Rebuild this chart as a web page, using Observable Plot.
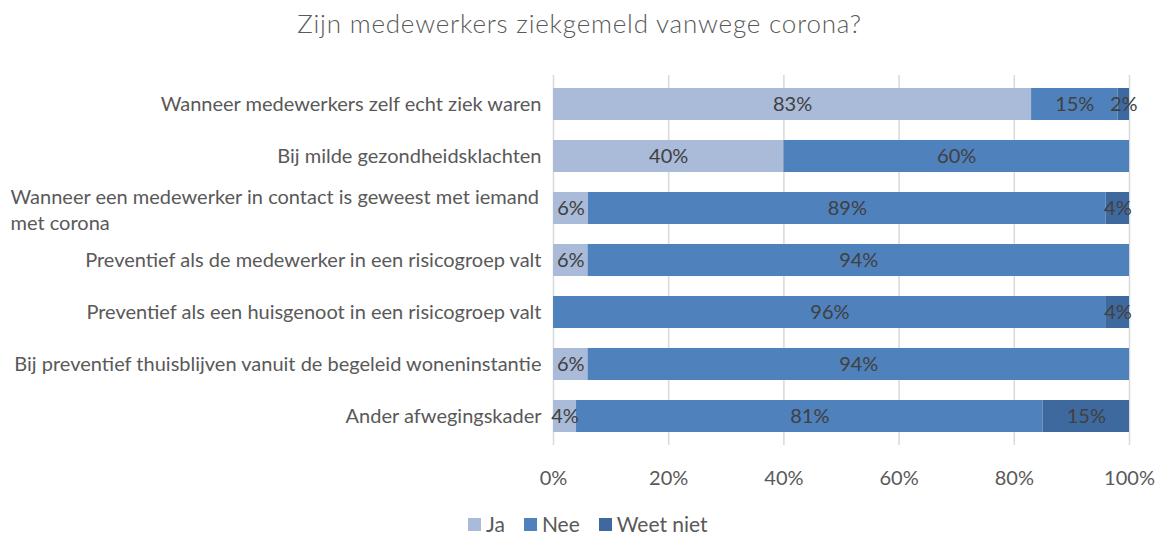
<!DOCTYPE html>
<html>
<head>
<meta charset="utf-8">
<script src="https://cdn.jsdelivr.net/npm/d3@7"></script>
<script src="https://cdn.jsdelivr.net/npm/@observablehq/plot@0.6"></script>
<style>
  html, body { margin: 0; padding: 0; background: #fff; }
  body { width: 1159px; height: 537px; overflow: hidden; font-family: Lato, "Open Sans", sans-serif; }
  #title { height: 55px; box-sizing: border-box; padding-top: 7px; line-height: 32px; text-align: center; font-size: 26px; letter-spacing: 0.8px; font-weight: 300; color: #595959; }
  #legend { display: flex; align-items: center; padding-left: 468px; margin-top: 23px; height: 22px; font-size: 21px; line-height: 22px; color: #595959; }
  .item { display: flex; align-items: center; margin-right: 19px; }
  .sw { width: 13px; height: 13px; margin-right: 5px; }
</style>
</head>
<body>
<div id="title">Zijn medewerkers ziekgemeld vanwege corona?</div>
<div id="chart"></div>
<div id="legend"></div>
<script>
const categories = [
  "Wanneer medewerkers zelf echt ziek waren",
  "Bij milde gezondheidsklachten",
  "Wanneer een medewerker in contact is geweest met iemand met corona",
  "Preventief als de medewerker in een risicogroep valt",
  "Preventief als een huisgenoot in een risicogroep valt",
  "Bij preventief thuisblijven vanuit de begeleid woneninstantie",
  "Ander afwegingskader"
];
const series = ["Ja", "Nee", "Weet niet"];
const ja = [83, 40, 6, 6, 0, 6, 4];
const nee = [15, 60, 89, 94, 96, 94, 81];
const weetNiet = [2, 0, 4, 0, 4, 0, 15];
const colors = ["#AABAD9", "#4F81BD", "#3E699E"];
const xTicks = [0, 0.2, 0.4, 0.6, 0.8, 1];
const longCat = categories[2];
const longCatLines = "Wanneer een medewerker in contact is geweest met iemand\nmet corona";

const valuesBySeries = [ja, nee, weetNiet];
const rows = [];
categories.forEach((cat, i) => {
  series.forEach((s, j) => {
    const v = valuesBySeries[j][i];
    if (v > 0) rows.push({cat, series: s, value: v});
  });
});

const chart = Plot.plot({
  width: 1159,
  height: 435,
  marginTop: 20,
  marginBottom: 45,
  marginLeft: 553,
  marginRight: 30,
  style: {fontFamily: "Lato, 'Open Sans', sans-serif", fontSize: "20px", color: "#595959", background: "#fff"},
  x: {domain: [0, 1], label: null},
  y: {domain: categories, paddingInner: 0.38, paddingOuter: 0.19, label: null},
  color: {domain: series, range: colors},
  marks: [
    Plot.ruleX(xTicks, {stroke: "#d9d9d9", strokeWidth: 1.5}),
    Plot.barX(rows, Plot.stackX({x: "value", y: "cat", fill: "series", offset: "normalize", order: series})),
    Plot.text(rows, Plot.stackX({
      x: "value", y: "cat", z: "series", offset: "normalize", order: series,
      text: d => d.value + "%", fill: "#404040", fontSize: 20
    })),
    Plot.axisX({ticks: xTicks, tickSize: 0, tickPadding: 25, tickFormat: d => Math.round(d * 100) + "%", fontSize: 20, label: null}),
    Plot.axisY({tickSize: 0, tickPadding: 12, fontSize: 20, label: null, tickFormat: d => d === longCat ? "" : d}),
    Plot.text([longCat], {
      y: d => d, text: () => longCatLines, frameAnchor: "left", textAnchor: "start",
      dx: -543, lineAnchor: "middle", lineHeight: 1.3, fontSize: 20, fill: "#595959"
    })
  ]
});
document.getElementById("chart").appendChild(chart);

const legend = d3.select("#legend");
series.forEach((s, i) => {
  const item = legend.append("div").attr("class", "item");
  item.append("div").attr("class", "sw").style("background", colors[i]);
  item.append("span").text(s);
});
</script>
</body>
</html>
